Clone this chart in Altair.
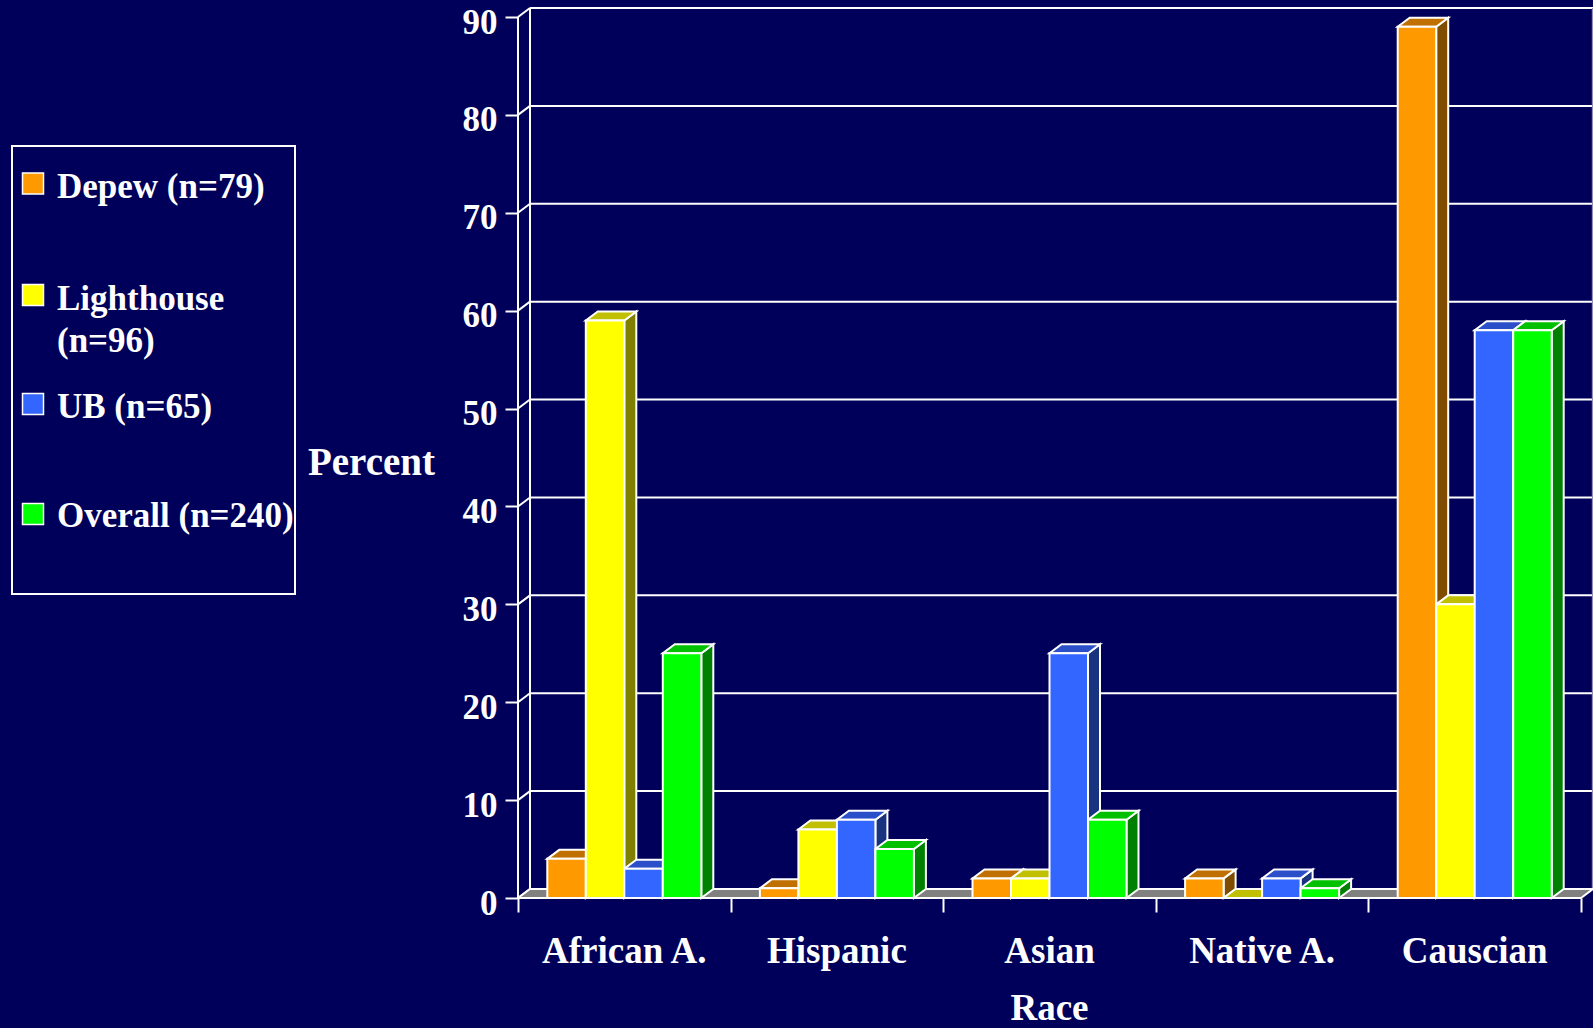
import altair as alt
import pandas as pd

# ---- data -------------------------------------------------------------
categories = ["African A.", "Hispanic", "Asian", "Native A.", "Causcian"]
series = ["Depew (n=79)", "Lighthouse (n=96)", "UB (n=65)", "Overall (n=240)"]
legend_text = ["Depew (n=79)", "Lighthouse\n(n=96)", "UB (n=65)", "Overall (n=240)"]
depew = [4, 1, 2, 2, 89]
lighthouse = [59, 7, 2, 0, 30]
ub = [3, 8, 25, 2, 58]
overall = [25, 5, 8, 1, 58]
y_ticks = [0, 10, 20, 30, 40, 50, 60, 70, 80, 90]

# ---- styling ----------------------------------------------------------
BG = "#00005A"
FONT = "Liberation Serif"
front_colors = ["#FF9900", "#FFFF00", "#3366FF", "#00FF00"]
top_colors = ["#C07000", "#C0C000", "#2A4FC8", "#00C000"]
side_colors = ["#7F4C00", "#808000", "#1A3380", "#008000"]

W, H = 1075, 890                 # plot area in px
DEPTH_X_PX, DEPTH_Y_PX = 12, 9   # 3-D depth of the bars / floor / wall
Y_MAX = 90
n_cat = len(categories)
ppy = (H - DEPTH_Y_PX) / Y_MAX
ppx = (W - DEPTH_X_PX) / n_cat
DY = DEPTH_Y_PX / ppy
DX = DEPTH_X_PX / ppx
BAR_W = 38.5 / ppx
GROUP_PAD = (1 - len(series) * BAR_W) / 2

xscale = alt.Scale(domain=[0, n_cat + DX], nice=False, zero=False)
yscale = alt.Scale(domain=[0, Y_MAX + DY], nice=False, zero=False)

# ---- geometry derived from the values --------------------------------
values = [depew, lighthouse, ub, overall]
bars, tops, sides = [], [], []
for i, cat in enumerate(categories):
    for j, s in enumerate(series):
        v = values[j][i]
        x0 = i + GROUP_PAD + j * BAR_W
        x1 = x0 + BAR_W
        bid = f"{i}-{j}"
        bars.append({"category": cat, "series": s, "value": v, "base": 0, "x0": x0, "x1": x1})
        for px, lo, hi in [(x0, v, v), (x0 + DX, v, v + DY), (x1, v, v + DY), (x1 + DX, v + DY, v + DY)]:
            tops.append({"bar": bid, "series": s, "px": px, "lo": lo, "hi": hi})
        for px, lo, hi in [(x1, 0, v), (x1 + DX, DY, v + DY)]:
            sides.append({"bar": bid, "series": s, "px": px, "lo": lo, "hi": hi})
bars = pd.DataFrame(bars)
tops = pd.DataFrame(tops)
sides = pd.DataFrame(sides)

floor = pd.DataFrame({
    "px": [0, DX, n_cat, n_cat + DX],
    "lo": [0, 0, 0, DY],
    "hi": [0, DY, DY, DY],
})
ticks = pd.DataFrame({"v": y_ticks})
cats = pd.DataFrame({"category": categories, "xc": [i + 0.5 for i in range(n_cat)]})
verticals = pd.DataFrame({
    "vx": [DX, 0],
    "vy0": [DY, 0],
    "vy1": [Y_MAX + DY, Y_MAX],
})
right_edge = pd.DataFrame({"vx": [n_cat + DX - 0.002], "vy0": [DY], "vy1": [Y_MAX + DY]})

# ---- axes (front edge of the 3-D box) -------------------------------------
x_axis = alt.Axis(
    values=list(range(n_cat + 1)), labels=False, domain=False, grid=False,
    tickSize=14, tickColor="white", tickWidth=2,
    title="Race", titleX=531, titleY=121, titleAlign="center",
    titleBaseline="alphabetic", titleFont=FONT, titleFontSize=37,
    titleFontWeight="bold", titleColor="white",
)
y_axis = alt.Axis(
    values=y_ticks, domain=False, grid=False,
    tickSize=13, tickColor="white", tickWidth=2,
    labelFont=FONT, labelFontSize=35, labelFontWeight="bold",
    labelColor="white", labelPadding=8, labelOffset=5,
    title="Percent", titleAngle=0, titleX=-147, titleY=454,
    titleAlign="center", titleBaseline="middle", titleFont=FONT,
    titleFontSize=39, titleFontWeight="bold", titleColor="white",
)

# ---- back wall ----------------------------------------------------------
grid = alt.Chart(ticks).transform_filter("datum.v > 0").transform_calculate(
    gy=f"datum.v + {DY}", gx0=f"{DX}", gx1=f"{n_cat + DX}"
).mark_rule(color="white", strokeWidth=2).encode(
    x=alt.X("gx0:Q", scale=xscale, axis=x_axis),
    x2="gx1:Q",
    y=alt.Y("gy:Q", scale=yscale, axis=y_axis),
)

diag = alt.Chart(ticks).transform_calculate(
    gy=f"datum.v + {DY}", gx0="0", gx1=f"{DX}"
).mark_rule(color="white", strokeWidth=2).encode(
    x=alt.X("gx0:Q", scale=xscale),
    x2="gx1:Q",
    y=alt.Y("v:Q", scale=yscale),
    y2="gy:Q",
)

wall_lines = alt.Chart(verticals).mark_rule(color="white", strokeWidth=2).encode(
    x=alt.X("vx:Q", scale=xscale),
    y=alt.Y("vy0:Q", scale=yscale),
    y2="vy1:Q",
)
wall_right = alt.Chart(right_edge).mark_rule(color="#9090B8", strokeWidth=1.5).encode(
    x=alt.X("vx:Q", scale=xscale),
    y=alt.Y("vy0:Q", scale=yscale),
    y2="vy1:Q",
)

floor_layer = alt.Chart(floor).mark_area(
    color="#808080", stroke="white", strokeWidth=2, interpolate="linear"
).encode(
    x=alt.X("px:Q", scale=xscale),
    y=alt.Y("lo:Q", scale=yscale, stack=None),
    y2="hi:Q",
)

# ---- 3-D bars -----------------------------------------------------------
side_layer = alt.Chart(sides).mark_area(
    stroke="white", strokeWidth=2, interpolate="linear", fillOpacity=1
).encode(
    x=alt.X("px:Q", scale=xscale),
    y=alt.Y("lo:Q", scale=yscale, stack=None),
    y2="hi:Q",
    fill=alt.Fill("series:N", scale=alt.Scale(domain=series, range=side_colors), legend=None),
    detail="bar:N",
)

top_layer = alt.Chart(tops).mark_area(
    stroke="white", strokeWidth=2, interpolate="linear", fillOpacity=1
).encode(
    x=alt.X("px:Q", scale=xscale),
    y=alt.Y("lo:Q", scale=yscale, stack=None),
    y2="hi:Q",
    fill=alt.Fill("series:N", scale=alt.Scale(domain=series, range=top_colors), legend=None),
    detail="bar:N",
)

front_layer = alt.Chart(bars).mark_rect(stroke="white", strokeWidth=2).encode(
    x=alt.X("x0:Q", scale=xscale),
    x2="x1:Q",
    y=alt.Y("value:Q", scale=yscale),
    y2="base:Q",
    fill=alt.Fill("series:N", scale=alt.Scale(domain=series, range=front_colors), legend=None),
)

cat_labels = alt.Chart(cats).mark_text(
    font=FONT, fontSize=37, fontWeight="bold", color="white", baseline="alphabetic"
).encode(
    x=alt.X("xc:Q", scale=xscale),
    y=alt.value(H + 65),
    text="category:N",
)

# ---- legend box -----------------------------------------------------------
legend_df = pd.DataFrame({
    "label": legend_text,
    "series": series,
    "row": list(range(len(series))),
})
legend_box = alt.Chart(legend_df.head(1)).mark_rect(
    fillOpacity=0, stroke="white", strokeWidth=2
).encode(x=alt.value(-506), x2=alt.value(-223), y=alt.value(138), y2=alt.value(586))

row_sq = [175.5, 287, 396, 506]
row_txt = [190, 302, 410, 519]
legend_layers = [legend_box]
for i in range(len(series)):
    row = legend_df.iloc[[i]]
    legend_layers.append(
        alt.Chart(row).mark_square(
            size=441, color=front_colors[i], opacity=1, stroke="white", strokeWidth=1.5
        ).encode(x=alt.value(-485), y=alt.value(row_sq[i]))
    )
    legend_layers.append(
        alt.Chart(row).mark_text(
            font=FONT, fontSize=35, fontWeight="bold", color="white",
            align="left", baseline="alphabetic", lineBreak="\n", lineHeight=42,
        ).encode(x=alt.value(-461), y=alt.value(row_txt[i]), text="label:N")
    )

chart = alt.layer(
    grid, wall_lines, wall_right, diag, floor_layer,
    side_layer, top_layer, front_layer, cat_labels, *legend_layers,
).resolve_scale(fill="independent").properties(
    width=W, height=H, background=BG,
    padding={"left": 518, "top": 8, "right": 0, "bottom": 130},
    autosize=alt.AutoSizeParams(type="none"),
).configure_view(stroke=None).configure_axis(grid=False, domain=False)

chart.save("out.html", embed_options={"renderer": "svg", "actions": False})
